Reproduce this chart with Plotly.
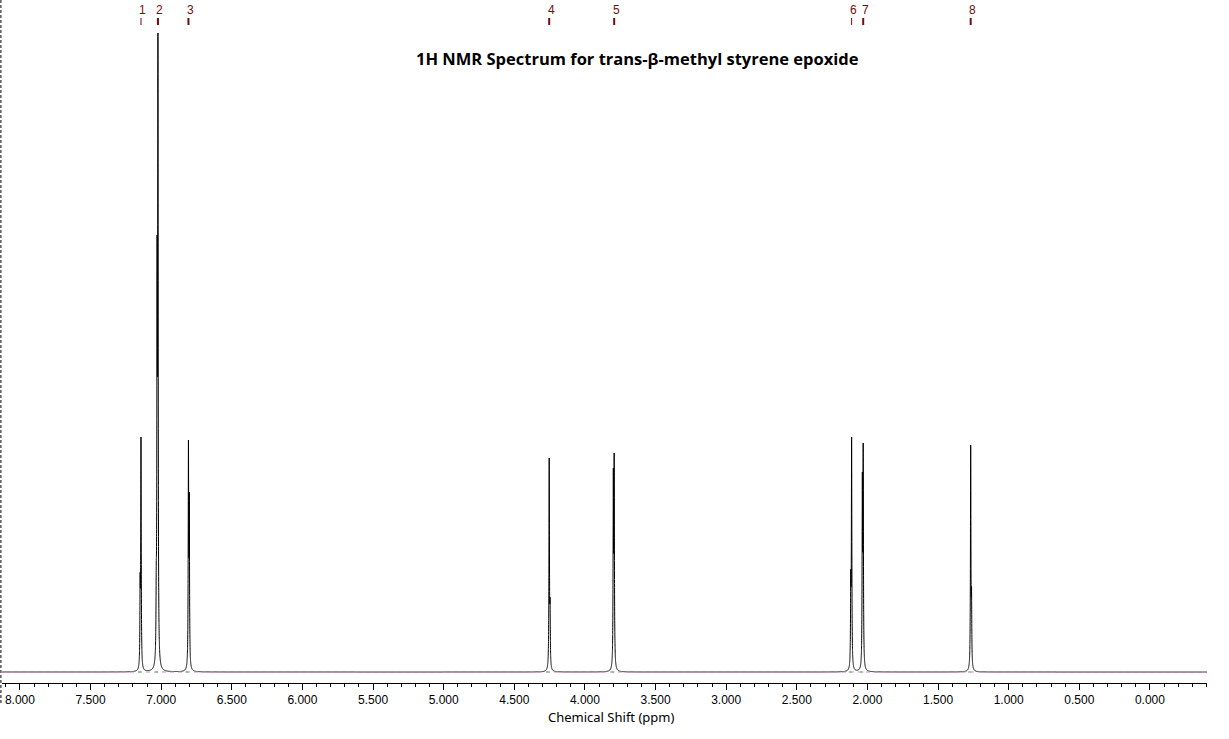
import numpy as np
import plotly.graph_objects as go

# ---- data ----
peak_labels = ["1", "2", "3", "4", "5", "6", "7", "8"]
peak_ppm = [7.143, 7.023, 6.807, 4.253, 3.793, 2.112, 2.030, 1.269]
peak_mark_width = [1, 2, 2, 2, 2, 1, 2, 2]

# individual resonance lines (multiplet components) : position (ppm) and observed height
line_ppm = [7.143, 7.149, 7.023, 7.029, 7.035, 6.807, 6.801, 4.253, 4.247,
            3.793, 3.799, 3.787, 2.112, 2.118, 2.030, 2.036, 1.269, 1.263]
line_height = [235, 99, 639, 437, 109, 232, 180, 214, 74,
               219, 204, 27, 235, 102, 229, 200, 227, 85]
line_halfwidth = 0.002  # ppm

x_range = [8.127, -0.404]
y_range = [-11, 672]
tick_vals = [8.0, 7.5, 7.0, 6.5, 6.0, 5.5, 5.0, 4.5, 4.0, 3.5, 3.0, 2.5, 2.0, 1.5, 1.0, 0.5, 0.0]

title_text = "1H NMR Spectrum for trans-β-methyl styrene epoxide"
x_title = "Chemical Shift (ppm)"

# ---- build the spectrum (Lorentzian line shapes) ----
c = np.array(line_ppm)
g = line_halfwidth


def lor(x, c0):
    return g * g / ((x - c0) ** 2 + g * g)


M = np.array([[lor(ci, cj) for cj in c] for ci in c])
amps = np.linalg.solve(M, np.array(line_height, dtype=float))

grid = [np.arange(x_range[1], x_range[0], 0.0005)]
for ci in c:
    grid.append(ci + np.linspace(-0.012, 0.012, 121))
xs = np.unique(np.concatenate(grid))
ys = np.zeros_like(xs)
for a, ci in zip(amps, c):
    ys += a * lor(xs, ci)

fig = go.Figure()
fig.add_trace(go.Scatter(x=xs, y=ys, mode="lines",
                         line=dict(color="black", width=1, simplify=False),
                         hoverinfo="skip", showlegend=False))

shapes = []
# baseline dashes (pink over black)
shapes.append(dict(type="line", xref="paper", yref="y", x0=0, x1=1, y0=0, y1=0,
                   line=dict(color="#d77fd7", width=1, dash="4px,4px"), layer="above"))
# green integration marks at peak bases
for p in peak_ppm:
    shapes.append(dict(type="line", xref="x", yref="y", x0=p + 0.02, x1=p - 0.02, y0=0, y1=0,
                       line=dict(color="#3fc23f", width=1, dash="3px,3px"), layer="above"))
# left dashed border
shapes.append(dict(type="line", xref="paper", yref="paper", x0=-0.0009, x1=-0.0009, y0=1, y1=-0.03,
                   line=dict(color="black", width=1, dash="3px,2px")))
# peak label marks
for p, w in zip(peak_ppm, peak_mark_width):
    shapes.append(dict(type="line", xref="x", yref="y", x0=p, x1=p, y0=647, y1=654,
                       line=dict(color="#7a0a0a", width=w)))

annotations = []
for p, lab in zip(peak_ppm, peak_labels):
    annotations.append(dict(x=p, y=662, xref="x", yref="y", text=lab, showarrow=False,
                            xshift=2, font=dict(family="Liberation Sans", size=12, color="#7a0a0a")))
annotations.append(dict(x=0.527, y=614, xref="paper", yref="y", text="<b>" + title_text + "</b>",
                        showarrow=False, font=dict(family="Open Sans", size=16.5, color="black")))
annotations.append(dict(x=0.505, y=-0.05, xref="paper", yref="paper", text=x_title, showarrow=False,
                        yanchor="middle",
                        font=dict(family="Noto Sans", size=13, color="black")))

fig.update_layout(
    width=1229, height=739,
    margin=dict(l=2, r=22, t=0, b=56, autoexpand=False),
    paper_bgcolor="white", plot_bgcolor="white",
    shapes=shapes, annotations=annotations,
    xaxis=dict(range=x_range, autorange=False, showgrid=False, zeroline=False,
               showline=True, linecolor="black", linewidth=1,
               ticks="outside", ticklen=6, tickcolor="black", tickwidth=1,
               tickvals=tick_vals, tickformat=".3f",
               tickfont=dict(family="Liberation Sans", size=12, color="black"),
               minor=dict(dtick=0.1, tick0=0, ticks="outside", ticklen=3, tickcolor="black")),
    yaxis=dict(range=y_range, autorange=False, visible=False, showgrid=False, zeroline=False),
)

fig.write_html("out.html", config={"displayModeBar": False},
               post_script="document.body.style.margin='0';document.body.style.padding='0';")
